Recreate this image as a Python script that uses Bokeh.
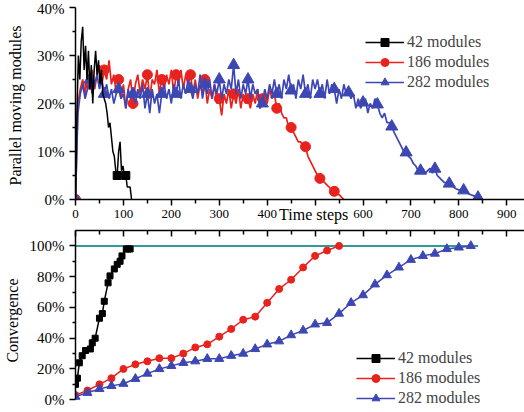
from bokeh.plotting import figure
from bokeh.layouts import column
from bokeh.models import (Range1d, FixedTicker, Legend, LegendItem, LinearAxis,
                          PrintfTickFormatter)
from bokeh.embed import file_html
from bokeh.resources import INLINE

# ---------------- data ----------------
# Top panel: parallel moving modules (%) vs time steps
black_top_t = list(range(0, 118, 3))
black_top_v = [0, 18, 30, 25, 33, 36, 27, 32, 25, 31,
               23, 28, 20, 27, 31, 26, 29, 24, 27, 22,
               21, 20, 18, 15, 16, 13, 10, 9, 6, 5,
               10, 12, 6, 7, 5, 5, 2.6, 2.6, 2.6, 0]
black_top_marker_idx = [29, 35]

red_top_t = list(range(0, 561, 5))
red_top_v = [0, 20, 23, 25, 22, 26, 24, 27, 23, 26,
             28, 24, 27, 25, 29, 24, 26, 22, 25, 21,
             24, 19, 23, 25, 20, 24, 26, 22, 25, 23,
             26, 21, 25, 24, 27, 22, 25, 23, 26, 24,
             27, 22, 26, 24, 27, 23, 26, 24, 26, 22,
             25, 21, 24, 22, 25, 20, 23, 21, 24, 20,
             21, 17.5, 22, 20, 23, 19, 22, 20, 23, 19,
             22, 20, 21, 19, 22, 20, 23, 19, 21, 22,
             20, 23, 21, 22, 19, 20, 18, 17, 17, 15,
             15, 14, 13, 12, 12, 11, 11, 9, 8, 7,
             6, 5, 4.4, 4, 3.5, 3, 2.5, 2, 1.7, 1.2,
             1, 0.5, 0]

blue_top_t = list(range(0, 841, 5))
blue_top_v = [0, 18, 22, 24, 21, 23, 25, 22, 24, 26,
              23, 25, 22, 24, 21, 23, 20, 22, 23, 21,
              22, 19, 23, 21, 22, 20, 23, 21, 24, 19,
              22, 18, 23, 20, 22, 18, 22, 24, 21, 23,
              20, 24, 22, 25, 21, 24, 22, 25, 23, 21,
              24, 22, 26, 21, 24, 22, 25, 21, 24, 22,
              25, 21, 24, 22, 25, 23, 28, 22, 25, 21,
              24, 22, 25, 21, 24, 22, 23, 19, 20, 23,
              21, 24, 22, 25, 22, 24, 21, 25, 23, 26,
              22.7, 24, 21, 25, 23, 26, 22, 24, 21, 25,
              23, 25, 22, 24, 21, 25, 22, 24, 23, 20,
              23, 21, 24, 22, 22.3, 21, 22, 19, 21, 19,
              20.2, 21, 18, 20, 19, 21, 19.8, 18, 17, 18,
              16, 16, 15.2, 14, 13, 12, 11, 10, 9.8, 9,
              8.5, 7.5, 7, 6, 6, 6.5, 5.5, 6, 6.5, 5.5,
              6.4, 5, 4.5, 4, 3.5, 3.5, 3.3, 3, 2.5, 2.2,
              2, 2, 1.9, 1.5, 1.2, 1, 0.8, 0.6, 0.4]
top_marker_step = 6

# Bottom panel: convergence (%) vs time steps
black_bot_t = [0, 4, 8, 14, 21, 31, 35, 41, 50, 56, 60, 68, 72, 81, 87, 93, 97, 106, 110, 114]
black_bot_v = [10, 14, 24, 28.6, 32, 33, 37, 40, 53, 56, 64, 76, 80.5, 85, 88, 90, 93.5, 98, 98, 98]

red_bot_t = list(range(0, 551, 25))
red_bot_v = [3, 6, 10, 14, 20, 23, 25, 27, 27, 30, 34, 36, 41, 46, 52, 54,
             63, 72, 78, 86, 93.5, 97, 100]

blue_bot_t = list(range(0, 826, 25))
blue_bot_v = [2, 4.5, 7, 9, 10.4, 13.6, 17, 20, 22, 24, 25, 26.6, 26.6, 28.6,
              30, 33, 36, 38, 42, 45, 49, 50, 56, 63, 68, 75, 81, 86, 91, 93.5,
              95, 98, 99, 100]

full_t = [0, 840]
full_v = [100, 100]

labels = ["42 modules", "186 modules", "282 modules"]
x_ticks = list(range(0, 901, 100))
x_minor = list(range(50, 901, 100))
x_title = "Time steps"
x_title_pos = 497

# ---------------- style ----------------
BLACK = "#000000"
RED = "#e8231e"
BLUE = "#3d47b3"
TEAL = "#2f9a97"
FONT = "Liberation Serif"

X_END = 937
W = 524
LEFT = 73


def base_axis_style(ax):
    ax.axis_line_width = 1.5
    ax.major_tick_line_width = 1.5
    ax.minor_tick_line_width = 1.5
    ax.axis_line_color = BLACK
    ax.major_tick_line_color = BLACK
    ax.minor_tick_line_color = BLACK
    ax.major_label_text_font = FONT
    ax.major_label_text_color = BLACK
    ax.axis_label_text_font = FONT
    ax.axis_label_text_font_style = "normal"
    ax.axis_label_text_color = BLACK


# ---------------- top figure ----------------
p1 = figure(width=W, height=226, x_range=Range1d(0, X_END), y_range=Range1d(0, 40),
            output_backend="svg", toolbar_location=None,
            min_border_left=LEFT, min_border_right=0, min_border_top=7, min_border_bottom=27)
p1.outline_line_color = None
p1.xgrid.visible = False
p1.ygrid.visible = False

xa = p1.xaxis[0]
base_axis_style(xa)
xa.ticker = FixedTicker(ticks=x_ticks, minor_ticks=x_minor)
xa.major_label_overrides = {500: ""}
xa.major_tick_in = 0
xa.major_tick_out = 6
xa.minor_tick_in = 0
xa.minor_tick_out = 4
xa.major_label_text_font_size = "13px"
xa.major_label_standoff = 4

# line-less axis carrying only the "Time steps" title, pulled up into the tick-label row
xt = LinearAxis(ticker=FixedTicker(ticks=[x_title_pos], minor_ticks=[]),
                major_label_overrides={x_title_pos: x_title},
                axis_line_color=None, major_tick_line_color=None,
                minor_tick_line_color=None, major_tick_out=0, major_tick_in=0,
                minor_tick_out=0, minor_tick_in=0,
                major_label_standoff=-15, major_label_text_font=FONT,
                major_label_text_font_size="16px", major_label_text_color=BLACK)
p1.add_layout(xt, "below")

ya = p1.yaxis[0]
base_axis_style(ya)
ya.ticker = FixedTicker(ticks=[0, 10, 20, 30, 40], minor_ticks=[5, 15, 25, 35])
ya.formatter = PrintfTickFormatter(format="%d%%")
ya.major_tick_in = 0
ya.major_tick_out = 6
ya.minor_tick_in = 0
ya.minor_tick_out = 3
ya.major_label_text_font_size = "15px"
ya.major_label_standoff = 5
ya.axis_label = "Parallel  moving modules"
ya.axis_label_text_font_size = "16px"
ya.axis_label_standoff = 10

r_line = p1.line(red_top_t, red_top_v, color=RED, line_width=1.7)
r_mark = p1.scatter(red_top_t[::top_marker_step], red_top_v[::top_marker_step],
                    marker="circle", size=10, color=RED)
b_line = p1.line(blue_top_t, blue_top_v, color=BLUE, line_width=1.7)
b_mark = p1.scatter(blue_top_t[::top_marker_step], blue_top_v[::top_marker_step],
                    marker="triangle", size=12, color=BLUE)
k_line = p1.line(black_top_t, black_top_v, color=BLACK, line_width=1.5)
k_mark = p1.scatter([black_top_t[i] for i in black_top_marker_idx],
                    [black_top_v[i] for i in black_top_marker_idx],
                    marker="square", size=8, color=BLACK)

leg1 = Legend(items=[LegendItem(label=labels[0], renderers=[k_line, k_mark]),
                     LegendItem(label=labels[1], renderers=[r_line, r_mark]),
                     LegendItem(label=labels[2], renderers=[b_line, b_mark])],
              location=(290, 107), padding=0, margin=0, spacing=0,
              glyph_width=39, glyph_height=20, label_height=20, label_standoff=3,
              label_text_font=FONT, label_text_font_size="16px",
              border_line_color=None, background_fill_alpha=0)
p1.add_layout(leg1)

# ---------------- bottom figure ----------------
# frame extends a little below 0 % (no bottom axis) so the legend is not clipped;
# the left axis line is bounded to 0..110 %
p2 = figure(width=W, height=186, x_range=Range1d(0, X_END), y_range=Range1d(-7, 110),
            output_backend="svg", toolbar_location=None, x_axis_location="above",
            min_border_left=LEFT, min_border_right=0, min_border_top=4, min_border_bottom=2)
p2.outline_line_color = None
p2.xgrid.visible = False
p2.ygrid.visible = False

xb = p2.xaxis[0]
base_axis_style(xb)
xb.ticker = FixedTicker(ticks=x_ticks, minor_ticks=x_minor)
xb.major_label_overrides = {t: "" for t in x_ticks}
xb.major_tick_in = 6
xb.major_tick_out = 0
xb.minor_tick_in = 4
xb.minor_tick_out = 0
xb.major_label_text_font_size = "0px"
xb.major_label_standoff = 0

yb = p2.yaxis[0]
base_axis_style(yb)
yb.bounds = (0, 110)
yb.ticker = FixedTicker(ticks=[0, 20, 40, 60, 80, 100], minor_ticks=[10, 30, 50, 70, 90])
yb.formatter = PrintfTickFormatter(format="%d%%")
yb.major_tick_in = 0
yb.major_tick_out = 6
yb.minor_tick_in = 0
yb.minor_tick_out = 3
yb.major_label_text_font_size = "15px"
yb.major_label_standoff = 5
yb.axis_label = "Convergence"
yb.axis_label_text_font_size = "16px"
yb.axis_label_standoff = 6

p2.line(full_t, full_v, color=TEAL, line_width=2)
k2_line = p2.line(black_bot_t, black_bot_v, color=BLACK, line_width=1.5)
k2_mark = p2.scatter(black_bot_t, black_bot_v, marker="square", size=6, color=BLACK)
r2_line = p2.line(red_bot_t, red_bot_v, color=RED, line_width=1.5)
r2_mark = p2.scatter(red_bot_t, red_bot_v, marker="circle", size=7, color=RED)
b2_line = p2.line(blue_bot_t, blue_bot_v, color=BLUE, line_width=1.5)
b2_mark = p2.scatter(blue_bot_t, blue_bot_v, marker="triangle", size=9, color=BLUE)

leg2 = Legend(items=[LegendItem(label=labels[0], renderers=[k2_line, k2_mark]),
                     LegendItem(label=labels[1], renderers=[r2_line, r2_mark]),
                     LegendItem(label=labels[2], renderers=[b2_line, b2_mark])],
              location=(281, 2), padding=0, margin=0, spacing=0,
              glyph_width=39, glyph_height=20, label_height=20, label_standoff=3,
              label_text_font=FONT, label_text_font_size="16px",
              border_line_color=None, background_fill_alpha=0)
p2.add_layout(leg2)

layout = column(p1, p2)
open("out.html", "w").write(file_html(layout, INLINE))
